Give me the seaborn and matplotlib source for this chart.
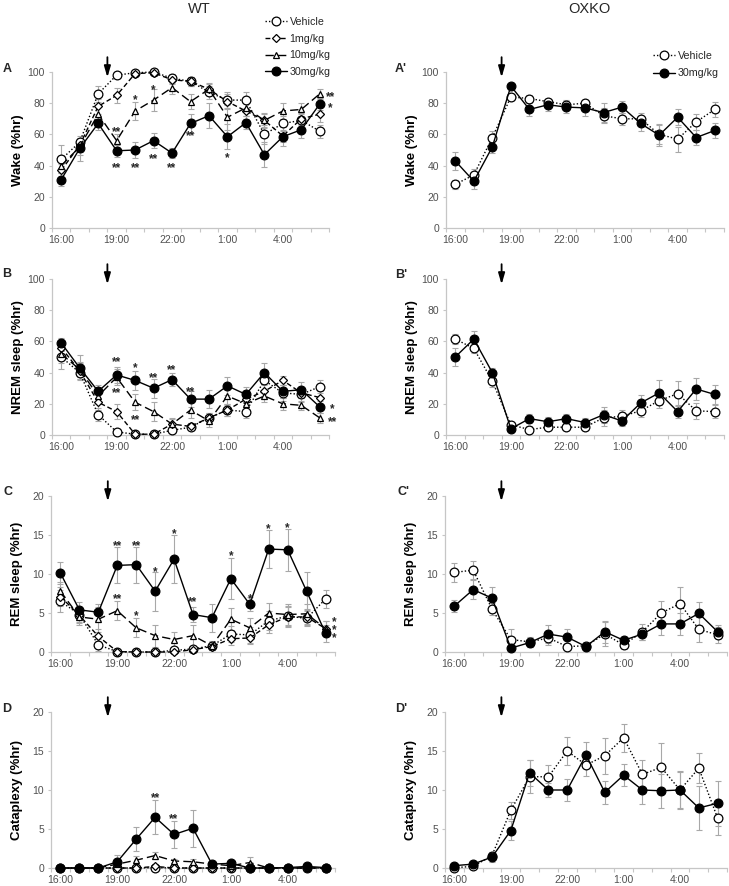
import numpy as np
import matplotlib
matplotlib.use('Agg')
import matplotlib.pyplot as plt
import seaborn as sns

# hourly bins, 16:00 -> 6:00
hours = ['16:00', '17:00', '18:00', '19:00', '20:00', '21:00', '22:00', '23:00',
         '0:00', '1:00', '2:00', '3:00', '4:00', '5:00', '6:00']
tick_labels = ['16:00', '19:00', '22:00', '1:00', '4:00']

# ---- Wake ----
wake_wt_veh = [44, 55, 86, 98, 99.5, 100, 96, 94, 87, 82, 82, 60, 67, 69, 62]
wake_wt_veh_se = [9, 3, 5, 1, 1, 1, 3, 3, 4, 5, 5, 6, 5, 4, 4]
wake_wt_1mg = [37, 53, 78, 85, 99, 99.5, 95, 94, 89, 81, 75, 69, 59, 70, 73]
wake_wt_1mg_se = [4, 4, 5, 5, 1, 1, 3, 3, 4, 5, 5, 4, 4, 4, 5]
wake_wt_10mg = [40, 52, 73, 56, 75, 82, 90, 81, 89, 71, 77, 69, 75, 76, 86]
wake_wt_10mg_se = [4, 5, 5, 4, 6, 7, 4, 5, 3, 8, 5, 5, 5, 4, 3]
wake_wt_30mg = [31, 51, 67, 49.5, 50, 56, 48, 67, 72, 58.5, 67.5, 47, 58.5, 63, 79.5]
wake_wt_30mg_se = [4, 8, 4, 4, 5, 5, 3, 6, 8, 8, 4, 8, 6, 5, 4]

wake_ko_veh = [28, 34, 58, 84, 83, 81, 79, 80, 72, 70, 70, 60, 57, 68, 76]
wake_ko_veh_se = [3, 4, 4, 2, 2, 2, 3, 2, 5, 4, 4, 6, 8, 5, 5]
wake_ko_30mg = [43, 30, 52, 91, 76, 79, 77.5, 77, 74, 77.5, 67, 59.5, 71, 58, 62.5]
wake_ko_30mg_se = [6, 5, 4, 2, 4, 4, 4, 5, 6, 4, 5, 7, 5, 5, 5]

# ---- NREM ----
nrem_wt_veh = [50, 40, 13, 2, 0.5, 0.5, 3, 5, 11, 16, 15, 35, 27, 26, 31]
nrem_wt_veh_se = [8, 4, 4, 1, 0.5, 0.5, 2, 2, 3, 4, 4, 6, 5, 5, 4]
nrem_wt_1mg = [56, 41, 21, 15, 0.5, 0.5, 7, 5.5, 11, 16, 23, 28, 35, 27, 24]
nrem_wt_1mg_se = [5, 5, 5, 5, 1, 1, 3, 2, 3, 4, 4, 4, 3, 3, 4]
nrem_wt_10mg = [52, 42, 25, 37, 21, 15, 7, 16, 9, 25, 20, 25, 20, 19, 11]
nrem_wt_10mg_se = [6, 5, 5, 5, 5, 6, 4, 5, 4, 6, 5, 4, 4, 3, 3]
nrem_wt_30mg = [59, 43, 28, 38.5, 35, 30, 35.5, 23, 23, 31.5, 26, 40, 28, 29, 18]
nrem_wt_30mg_se = [3, 8, 4, 5, 6, 6, 4, 5, 6, 6, 5, 6, 4, 5, 4]

nrem_ko_veh = [61.5, 55.5, 34.5, 6.5, 3.5, 5, 5, 5, 11, 12, 15.5, 22, 26.5, 15.5, 15]
nrem_ko_veh_se = [3, 3, 4, 2, 2, 2, 2, 2, 5, 4, 4, 5, 8, 5, 4]
nrem_ko_30mg = [50, 61.5, 40, 4, 10.5, 8.5, 10.5, 8, 13, 9, 20.5, 27, 15, 29.5, 26]
nrem_ko_30mg_se = [6, 5, 3, 2, 3, 3, 3, 3, 5, 3, 5, 8, 4, 7, 6]

# ---- REM ----
rem_wt_veh = [6.5, 4.8, 0.9, 0.05, 0, 0, 0.2, 0.4, 0.8, 2.3, 2.2, 4.0, 4.6, 4.3, 6.8]
rem_wt_veh_se = [1.4, 1.0, 0.8, 0.05, 0, 0, 0.2, 0.3, 0.5, 1.0, 1.0, 1.2, 1.3, 1.0, 1.2]
rem_wt_1mg = [7.1, 4.7, 2.0, 0.05, 0, 0, 0, 0.3, 0.7, 1.7, 1.8, 3.5, 4.5, 4.5, 3.0]
rem_wt_1mg_se = [1.2, 1.0, 1.0, 0.05, 0, 0, 0, 0.2, 0.4, 0.8, 0.8, 1.0, 1.3, 1.0, 1.0]
rem_wt_10mg = [7.8, 4.5, 4.2, 5.3, 3.1, 2.1, 1.6, 2.1, 0.8, 4.2, 3.1, 5.0, 4.8, 4.9, 3.0]
rem_wt_10mg_se = [1.2, 1.0, 1.6, 1.2, 1.2, 1.4, 1.0, 1.3, 0.6, 1.4, 1.2, 1.3, 1.4, 1.3, 1.0]
rem_wt_30mg = [10.1, 5.4, 5.1, 11.1, 11.2, 7.8, 11.9, 4.8, 4.4, 9.4, 6.1, 13.2, 13.1, 7.8, 2.4]
rem_wt_30mg_se = [1.4, 1.0, 1.0, 2.3, 2.3, 2.5, 3.1, 1.0, 1.8, 2.6, 0.9, 2.4, 2.7, 2.4, 1.1]

rem_ko_veh = [10.2, 10.5, 5.5, 1.6, 1.3, 1.8, 0.7, 0.8, 2.3, 0.9, 2.6, 5.0, 6.2, 2.9, 2.2]
rem_ko_veh_se = [1.2, 1.2, 0.8, 1.3, 0.6, 0.9, 0.5, 0.5, 1.5, 0.5, 1.0, 1.5, 2.1, 1.6, 1.0]
rem_ko_30mg = [5.9, 8.0, 6.9, 0.5, 1.2, 2.3, 1.9, 0.7, 2.6, 1.5, 2.3, 3.6, 3.6, 4.95, 2.6]
rem_ko_30mg_se = [0.8, 1.2, 1.4, 0.5, 0.6, 1.2, 1.0, 0.4, 1.4, 0.4, 0.7, 1.4, 1.4, 1.5, 0.8]

# ---- Cataplexy ----
cat_wt_veh = [0, 0, 0, 0, 0, 0.05, 0, 0, 0, 0, 0, 0, 0, 0, 0]
cat_wt_veh_se = [0, 0, 0, 0, 0, 0.05, 0, 0, 0, 0, 0, 0, 0, 0, 0]
cat_wt_1mg = [0, 0, 0, 0, 0, 0.2, 0, 0, 0, 0, 0, 0, 0, 0, 0]
cat_wt_1mg_se = [0, 0, 0, 0, 0, 0.2, 0, 0, 0, 0, 0, 0, 0, 0, 0]
cat_wt_10mg = [0, 0, 0, 0.5, 1.0, 1.6, 0.9, 0.8, 0.5, 0.3, 0.7, 0, 0, 0, 0]
cat_wt_10mg_se = [0, 0, 0, 0.4, 0.6, 0.5, 0.3, 0.4, 0.3, 0.3, 0.7, 0, 0, 0, 0]
cat_wt_30mg = [0, 0, 0, 0.8, 3.7, 6.5, 4.3, 5.1, 0.5, 0.6, 0, 0, 0.05, 0.2, 0.05]
cat_wt_30mg_se = [0, 0, 0, 0.9, 1.5, 2.2, 1.7, 2.4, 0.3, 0.3, 0, 0, 0.05, 0.1, 0.05]

cat_ko_veh = [0.05, 0.2, 1.6, 7.4, 11.7, 11.7, 15.0, 13.2, 14.4, 16.7, 12.0, 12.9, 10.0, 12.8, 6.4]
cat_ko_veh_se = [0.1, 0.2, 0.5, 1.1, 2.1, 1.5, 1.8, 1.4, 2.3, 1.8, 1.8, 3.1, 2.3, 1.9, 2.2]
cat_ko_30mg = [0.3, 0.5, 1.4, 4.8, 12.2, 10.0, 10.0, 14.5, 9.7, 11.9, 10.0, 9.9, 10.0, 7.7, 8.3]
cat_ko_30mg_se = [0.2, 0.3, 0.6, 1.2, 1.7, 0.9, 1.4, 1.6, 1.5, 1.4, 1.8, 2.2, 2.4, 2.8, 2.9]

# significance marks (x index, y value, text)
wake_wt_stars = [(3, 64, '**'), (4, 84, '*'), (5, 91, '*'), (7, 61, '**'),
                 (3, 41, '**'), (4, 41, '**'), (5, 46.5, '**'), (6, 41, '**'),
                 (9, 47, '*'), (14.6, 86, '**'), (14.55, 79, '*')]
nrem_wt_stars = [(3, 49, '**'), (4, 45, '*'), (5, 39, '**'), (6, 44, '**'),
                 (7, 30, '**'), (3, 29, '**'), (4, 12, '**'),
                 (14.65, 18.6, '*'), (14.7, 10.7, '**')]
rem_wt_stars = [(3, 14.0, '**'), (4, 14.0, '**'), (5, 10.7, '*'), (6, 15.6, '*'),
                (7, 6.8, '**'), (9, 12.7, '*'), (10, 7.3, '*'), (11, 16.2, '*'),
                (12, 16.4, '*'), (3, 7.2, '**'), (4, 5.1, '*'),
                (14.45, 3.2, '*\n*\n*')]
cat_wt_stars = [(5, 9.4, '**'), (6, 6.7, '**')]

sns.set_theme(style='white')
plt.rcParams['font.family'] = ['Liberation Sans', 'DejaVu Sans']

styles = {
    'Vehicle': dict(linestyle=(0, (1, 1.5)), marker='o', markersize=6.3, markerfacecolor='white'),
    '1mg/kg': dict(linestyle=(0, (3.5, 2)), marker='D', markersize=4.2, markerfacecolor='white'),
    '10mg/kg': dict(linestyle=(0, (6, 3)), marker='^', markersize=5, markerfacecolor='white'),
    '30mg/kg': dict(linestyle='-', marker='o', markersize=6.3, markerfacecolor='black'),
}

W, H = 729, 886
fig = plt.figure(figsize=(W / 100, H / 100), dpi=100)


def px_axes(x0, y0, x1, y1):
    return fig.add_axes([x0 / W, 1 - y1 / H, (x1 - x0) / W, (y1 - y0) / H])


xpos = np.arange(len(hours))
axis_grey = '#c6c6c6'
text_grey = '#505050'


def draw_panel(ax, series, ymax, ystep, ylabel, stars=()):
    handles = []
    for name, vals, errs in series:
        ax.errorbar(xpos, vals, yerr=errs, fmt='none', ecolor='#a8a8a8',
                    elinewidth=0.8, capsize=2, capthick=0.8, zorder=1)
        sns.lineplot(x=xpos, y=vals, ax=ax, color='black', lw=1,
                     markeredgecolor='black', markeredgewidth=0.9,
                     clip_on=False, legend=False, zorder=3, **styles[name])
        handles.append(ax.lines[-1])
    ax.set_xlim(-0.5, len(hours) - 0.5)
    ax.set_ylim(0, ymax)
    ax.set_yticks(np.arange(0, ymax + 0.1, ystep))
    ax.set_xticks(np.arange(-0.5, len(hours), 1))
    ax.set_xticklabels([])
    ax.set_xticks([0, 3, 6, 9, 12], minor=True)
    ax.set_xticklabels(tick_labels, minor=True)
    ax.tick_params(axis='x', which='major', length=3, width=0.8, color=axis_grey, direction='out', bottom=True)
    ax.tick_params(axis='x', which='minor', length=0, pad=5, labelsize=7.5, labelcolor=text_grey)
    ax.tick_params(axis='y', length=2, width=0.8, color=axis_grey, left=True, pad=3,
                   labelsize=7.5, labelcolor=text_grey)
    sns.despine(ax=ax)
    for s in ['left', 'bottom']:
        ax.spines[s].set_color(axis_grey)
        ax.spines[s].set_linewidth(0.9)
    ax.set_ylabel(ylabel, fontsize=9.5, fontweight='bold', color='black')
    bb = ax.get_position()
    ax.yaxis.set_label_coords(-28 / (bb.width * W), 0.5)
    # injection arrow
    ax.annotate('', xy=(2.5, 0.965), xytext=(2.5, 1.095),
                xycoords=('data', 'axes fraction'), textcoords=('data', 'axes fraction'),
                arrowprops=dict(arrowstyle='-|>,head_length=0.55,head_width=0.16',
                                color='black', lw=1.3, shrinkA=0, shrinkB=0),
                annotation_clip=False)
    for sx, sy, txt in stars:
        if '\n' in txt:
            ax.annotate(txt, (sx, sy), xytext=(0, -2.5), textcoords='offset points',
                        ha='center', va='center', fontsize=8.5, fontweight='bold',
                        linespacing=0.55, annotation_clip=False)
        else:
            ax.annotate(txt, (sx, sy), xytext=(0, -4.8), textcoords='offset points',
                        ha='center', va='baseline', fontsize=8.5, fontweight='bold',
                        annotation_clip=False)
    return handles


rows = [(72, 228), (279, 435), (496, 652), (712, 868)]
left_cols = [(52, 329), (52, 329), (51, 335), (51, 335)]
right_cols = [(446, 724), (446, 724), (445, 727), (445, 727)]

axA = px_axes(left_cols[0][0], rows[0][0], left_cols[0][1], rows[0][1])
hA = draw_panel(axA, [('Vehicle', wake_wt_veh, wake_wt_veh_se),
                      ('1mg/kg', wake_wt_1mg, wake_wt_1mg_se),
                      ('10mg/kg', wake_wt_10mg, wake_wt_10mg_se),
                      ('30mg/kg', wake_wt_30mg, wake_wt_30mg_se)],
                100, 20, 'Wake (%hr)', wake_wt_stars)
axA2 = px_axes(right_cols[0][0], rows[0][0], right_cols[0][1], rows[0][1])
hA2 = draw_panel(axA2, [('Vehicle', wake_ko_veh, wake_ko_veh_se),
                        ('30mg/kg', wake_ko_30mg, wake_ko_30mg_se)],
                 100, 20, 'Wake (%hr)')

axB = px_axes(left_cols[1][0], rows[1][0], left_cols[1][1], rows[1][1])
draw_panel(axB, [('Vehicle', nrem_wt_veh, nrem_wt_veh_se),
                 ('1mg/kg', nrem_wt_1mg, nrem_wt_1mg_se),
                 ('10mg/kg', nrem_wt_10mg, nrem_wt_10mg_se),
                 ('30mg/kg', nrem_wt_30mg, nrem_wt_30mg_se)],
           100, 20, 'NREM sleep (%hr)', nrem_wt_stars)
axB2 = px_axes(right_cols[1][0], rows[1][0], right_cols[1][1], rows[1][1])
draw_panel(axB2, [('Vehicle', nrem_ko_veh, nrem_ko_veh_se),
                  ('30mg/kg', nrem_ko_30mg, nrem_ko_30mg_se)],
           100, 20, 'NREM sleep (%hr)')

axC = px_axes(left_cols[2][0], rows[2][0], left_cols[2][1], rows[2][1])
draw_panel(axC, [('Vehicle', rem_wt_veh, rem_wt_veh_se),
                 ('1mg/kg', rem_wt_1mg, rem_wt_1mg_se),
                 ('10mg/kg', rem_wt_10mg, rem_wt_10mg_se),
                 ('30mg/kg', rem_wt_30mg, rem_wt_30mg_se)],
           20, 5, 'REM sleep (%hr)', rem_wt_stars)
axC2 = px_axes(right_cols[2][0], rows[2][0], right_cols[2][1], rows[2][1])
draw_panel(axC2, [('Vehicle', rem_ko_veh, rem_ko_veh_se),
                  ('30mg/kg', rem_ko_30mg, rem_ko_30mg_se)],
           20, 5, 'REM sleep (%hr)')

axD = px_axes(left_cols[3][0], rows[3][0], left_cols[3][1], rows[3][1])
draw_panel(axD, [('Vehicle', cat_wt_veh, cat_wt_veh_se),
                 ('1mg/kg', cat_wt_1mg, cat_wt_1mg_se),
                 ('10mg/kg', cat_wt_10mg, cat_wt_10mg_se),
                 ('30mg/kg', cat_wt_30mg, cat_wt_30mg_se)],
           20, 5, 'Cataplexy (%hr)', cat_wt_stars)
axD2 = px_axes(right_cols[3][0], rows[3][0], right_cols[3][1], rows[3][1])
draw_panel(axD2, [('Vehicle', cat_ko_veh, cat_ko_veh_se),
                  ('30mg/kg', cat_ko_30mg, cat_ko_30mg_se)],
           20, 5, 'Cataplexy (%hr)')

# legends
fig.legend(hA, ['Vehicle', '1mg/kg', '10mg/kg', '30mg/kg'], loc='upper left',
           bbox_to_anchor=(265 / W, 1 - 17 / H), frameon=False, fontsize=7.7,
           handlelength=2.1, handletextpad=0.2, labelspacing=0.62,
           borderpad=0, borderaxespad=0)
fig.legend(hA2, ['Vehicle', '30mg/kg'], loc='upper left',
           bbox_to_anchor=(653 / W, 1 - 51 / H), frameon=False, fontsize=7.7,
           handlelength=2.1, handletextpad=0.2, labelspacing=0.7,
           borderpad=0, borderaxespad=0)

# column titles and panel letters
fig.text(199 / W, 1 - 9 / H, 'WT', fontsize=10.5, ha='center', va='center')
fig.text(589 / W, 1 - 9 / H, 'OXKO', fontsize=10.5, ha='center', va='center')
letters = [('A', 3, 72), ('B', 2, 277), ('C', 3, 495), ('D', 2, 712),
           ("A'", 395, 72), ("B'", 395, 278), ("C'", 397, 495), ("D'", 395, 712)]
for txt, lx, ly in letters:
    fig.text(lx / W, 1 - ly / H, txt, fontsize=9, fontweight='bold', va='baseline', ha='left')

fig.savefig('out.png', dpi=100)
